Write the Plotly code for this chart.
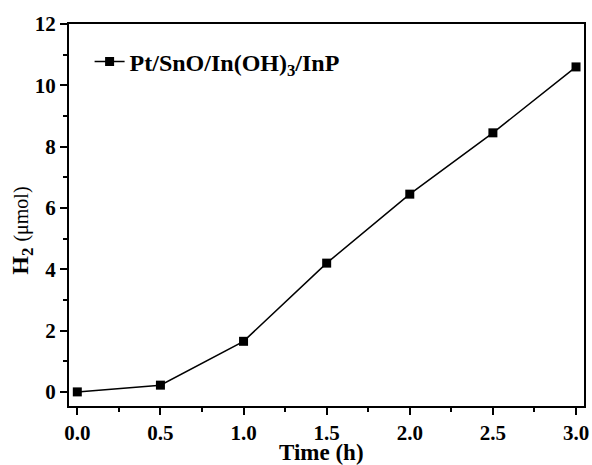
import plotly.graph_objects as go

time_h = [0.0, 0.5, 1.0, 1.5, 2.0, 2.5, 3.0]
h2_umol = [0.0, 0.22, 1.65, 4.2, 6.45, 8.45, 10.6]
series_name = "Pt/SnO/In(OH)<sub>3</sub>/InP"
x_ticks = [0.0, 0.5, 1.0, 1.5, 2.0, 2.5, 3.0]
x_tick_text = ["0.0", "0.5", "1.0", "1.5", "2.0", "2.5", "3.0"]
y_ticks = [0, 2, 4, 6, 8, 10, 12]

font_family = "Liberation Serif, Times New Roman, serif"

fig = go.Figure()
fig.add_trace(go.Scatter(
    x=time_h, y=h2_umol, mode="lines+markers", name="<b>" + series_name + "</b>",
    line=dict(color="black", width=1.5),
    marker=dict(symbol="square", size=9, color="black"),
))

axis_common = dict(
    showline=True, linecolor="black", linewidth=2, mirror=True,
    ticks="outside", tickwidth=2, ticklen=7, tickcolor="black",
    showgrid=False, zeroline=False, automargin=False,
    tickfont=dict(family=font_family, size=21, color="black", weight="bold"),
)

fig.update_layout(
    width=592, height=465,
    margin=dict(l=69, r=8, t=24, b=59),
    paper_bgcolor="white", plot_bgcolor="white",
    font=dict(family=font_family, color="black"),
    showlegend=True,
    legend=dict(x=0.04, y=0.96, xanchor="left", yanchor="top",
                bgcolor="rgba(0,0,0,0)", font=dict(family=font_family, size=24, color="black"),
                tracegroupgap=0),
    xaxis=dict(
        range=[-0.05, 3.048], tickvals=x_ticks, ticktext=x_tick_text,
        ticklabelstandoff=0,
        minor=dict(dtick=0.25, ticks="outside", ticklen=4, tickwidth=2, tickcolor="black", showgrid=False),
        **axis_common,
    ),
    yaxis=dict(
        range=[-0.46, 12], tickvals=y_ticks,
        minor=dict(dtick=1, ticks="outside", ticklen=4, tickwidth=2, tickcolor="black", showgrid=False),
        **axis_common,
    ),
    annotations=[
        dict(text="<b>Time (h)</b>", xref="paper", yref="paper", x=0.49, y=-0.157,
             xanchor="center", yanchor="bottom", showarrow=False, borderpad=0,
             font=dict(family=font_family, size=23, color="black")),
        dict(text="<b>H<sub>2</sub></b> <span style='font-size:20px'>(μmol)</span>",
             xref="paper", yref="paper", x=-0.092, y=0.458, textangle=-90,
             xanchor="center", yanchor="middle", showarrow=False,
             font=dict(family=font_family, size=24, color="black")),
    ],
)

fig.write_html("out.html")
